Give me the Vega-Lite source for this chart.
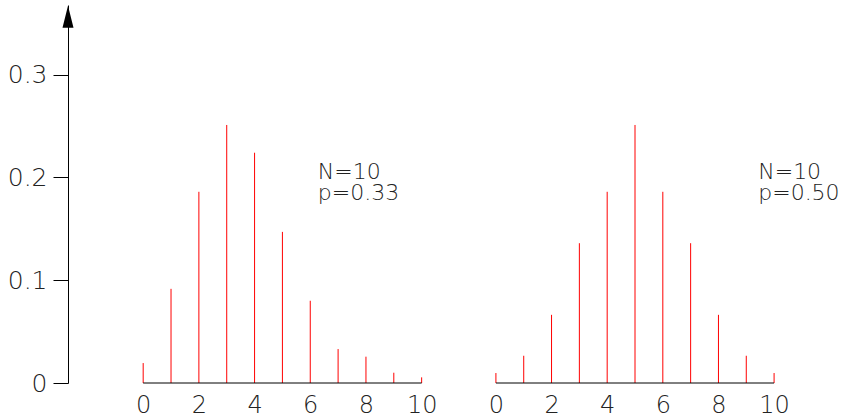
{
  "$schema": "https://vega.github.io/schema/vega-lite/v6.json",
  "background": "white",
  "padding": {"left": 5, "top": 5, "right": 0, "bottom": 0},
  "bounds": "flush",
  "spacing": 52,
  "config": {
    "view": {"stroke": null},
    "font": "DejaVu Sans"
  },
  "datasets": {
    "pmf": [
      {"panel": "A", "k": 0, "p": 0.0194},
      {"panel": "A", "k": 1, "p": 0.0916},
      {"panel": "A", "k": 2, "p": 0.186},
      {"panel": "A", "k": 3, "p": 0.251},
      {"panel": "A", "k": 4, "p": 0.224},
      {"panel": "A", "k": 5, "p": 0.147},
      {"panel": "A", "k": 6, "p": 0.080},
      {"panel": "A", "k": 7, "p": 0.033},
      {"panel": "A", "k": 8, "p": 0.0256},
      {"panel": "A", "k": 9, "p": 0.010},
      {"panel": "A", "k": 10, "p": 0.0055},
      {"panel": "B", "k": 0, "p": 0.0097},
      {"panel": "B", "k": 1, "p": 0.0265},
      {"panel": "B", "k": 2, "p": 0.0663},
      {"panel": "B", "k": 3, "p": 0.136},
      {"panel": "B", "k": 4, "p": 0.186},
      {"panel": "B", "k": 5, "p": 0.251},
      {"panel": "B", "k": 6, "p": 0.186},
      {"panel": "B", "k": 7, "p": 0.136},
      {"panel": "B", "k": 8, "p": 0.0663},
      {"panel": "B", "k": 9, "p": 0.0265},
      {"panel": "B", "k": 10, "p": 0.0097}
    ],
    "notes": [
      {"panel": "A", "label": ["N=10", "p=0.33"]},
      {"panel": "B", "label": ["N=10", "p=0.50"]}
    ]
  },
  "hconcat": [
    {
      "width": 362,
      "height": 378,
      "layer": [
        {
          "data": {"name": "pmf"},
          "transform": [{"filter": "datum.panel == 'A'"}],
          "mark": {"type": "rule", "color": "#ff0000", "strokeWidth": 1},
          "encoding": {
            "x": {
              "field": "k", "type": "quantitative",
              "scale": {"domain": [-2.7, 10.3], "nice": false, "zero": false},
              "axis": {"values": [0, 2, 4, 6, 8, 10], "ticks": false, "domain": false, "grid": false, "title": null,
                       "labelFontSize": 24, "labelPadding": 10, "labelColor": "#222", "labelFont": "DejaVu Sans",
                       "labelFontWeight": 200, "labelFlush": false, "labelOverlap": false}
            },
            "y": {
              "field": "p", "type": "quantitative",
              "scale": {"domain": [0, 0.3677], "nice": false},
              "axis": {"values": [0, 0.1, 0.2, 0.3], "tickSize": 15, "tickColor": "black", "domainColor": "black",
                       "tickWidth": 1, "domainWidth": 1, "grid": false, "title": null,
                       "labelFontSize": 25, "labelPadding": 6, "labelColor": "#222", "labelFont": "DejaVu Sans",
                       "labelFontWeight": 200, "labelFlush": false,
                       "labelExpr": "datum.value == 0 ? '0' : format(datum.value, '.1f')",
                       "minExtent": 63, "maxExtent": 63}
            },
            "y2": {"datum": 0}
          }
        },
        {
          "data": {"name": "pmf"},
          "transform": [{"filter": "datum.panel == 'A'"}],
          "mark": {"type": "rule", "color": "black", "strokeWidth": 1},
          "encoding": {
            "x": {"aggregate": "min", "field": "k", "type": "quantitative"},
            "x2": {"aggregate": "max", "field": "k"},
            "y": {"datum": 0}
          }
        },
        {
          "data": {"values": [{}]},
          "mark": {"type": "point", "shape": "M0,-1L0.5,1L-0.5,1Z", "size": 484, "filled": true, "color": "black", "opacity": 1},
          "encoding": {
            "x": {"datum": -2.7},
            "y": {"datum": 0.3563}
          }
        },
        {
          "data": {"name": "notes"},
          "transform": [{"filter": "datum.panel == 'A'"}],
          "mark": {"type": "text", "align": "left", "baseline": "alphabetic", "fontSize": 22, "lineHeight": 21,
                   "color": "#222", "font": "DejaVu Sans", "fontWeight": 200},
          "encoding": {
            "text": {"field": "label"},
            "x": {"datum": 6.27},
            "y": {"datum": 0.1984}
          }
        }
      ]
    },
    {
      "width": 306,
      "height": 378,
      "layer": [
        {
          "data": {"name": "pmf"},
          "transform": [{"filter": "datum.panel == 'B'"}],
          "mark": {"type": "rule", "color": "#ff0000", "strokeWidth": 1},
          "encoding": {
            "x": {
              "field": "k", "type": "quantitative",
              "scale": {"domain": [-0.5, 10.5], "nice": false, "zero": false},
              "axis": {"values": [0, 2, 4, 6, 8, 10], "ticks": false, "domain": false, "grid": false, "title": null,
                       "labelFontSize": 24, "labelPadding": 10, "labelColor": "#222", "labelFont": "DejaVu Sans",
                       "labelFontWeight": 200, "labelFlush": false, "labelOverlap": false}
            },
            "y": {
              "field": "p", "type": "quantitative",
              "scale": {"domain": [0, 0.3677], "nice": false},
              "axis": null
            },
            "y2": {"datum": 0}
          }
        },
        {
          "data": {"name": "pmf"},
          "transform": [{"filter": "datum.panel == 'B'"}],
          "mark": {"type": "rule", "color": "black", "strokeWidth": 1},
          "encoding": {
            "x": {"aggregate": "min", "field": "k", "type": "quantitative"},
            "x2": {"aggregate": "max", "field": "k"},
            "y": {"datum": 0}
          }
        },
        {
          "data": {"name": "notes"},
          "transform": [{"filter": "datum.panel == 'B'"}],
          "mark": {"type": "text", "align": "left", "baseline": "alphabetic", "fontSize": 22, "lineHeight": 21,
                   "color": "#222", "font": "DejaVu Sans", "fontWeight": 200},
          "encoding": {
            "text": {"field": "label"},
            "x": {"datum": 9.43},
            "y": {"datum": 0.1984}
          }
        }
      ]
    }
  ]
}
